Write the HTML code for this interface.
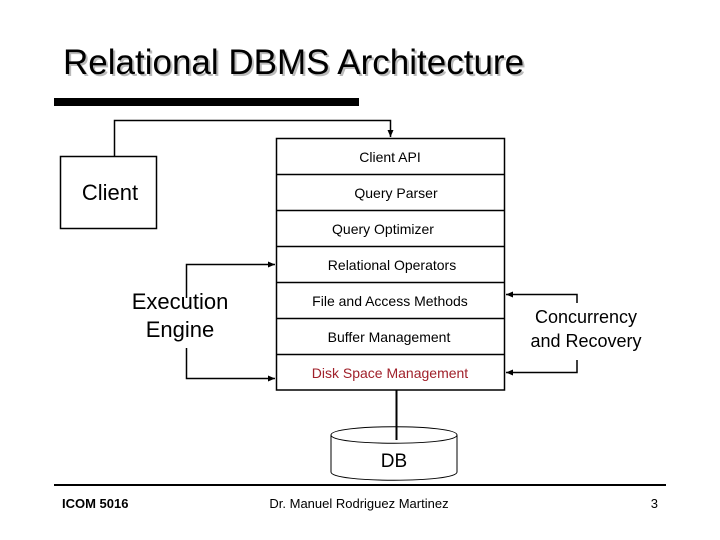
<!DOCTYPE html>
<html><head><style>
body{margin:0;background:#fff}
svg{display:block}
text{font-family:"Liberation Sans",sans-serif}
</style></head><body>
<svg width="720" height="540" viewBox="0 0 720 540" xmlns="http://www.w3.org/2000/svg">
<defs><marker id="a" markerWidth="8" markerHeight="8" refX="7" refY="4" orient="auto" markerUnits="userSpaceOnUse"><path d="M0,1 L7,4 L0,7 Z" fill="#000"/></marker></defs>
<text x="63" y="74" font-size="35" fill="#bbb" transform="translate(2,2)">Relational DBMS Architecture</text>
<text x="63" y="74" font-size="35" fill="#000">Relational DBMS Architecture</text>
<rect x="54" y="98" width="305" height="8" fill="#000"/>
<g fill="none" stroke="#000" stroke-width="1.5">
<rect x="60.5" y="156.5" width="96" height="72"/>
<rect x="276.5" y="138.5" width="228" height="251.5"/>
<path d="M276.5 174.5H504.5M276.5 210.5H504.5M276.5 246.5H504.5M276.5 282.5H504.5M276.5 318.5H504.5M276.5 354.5H504.5"/>
<path d="M114.5 156V120.5H390.5V137" marker-end="url(#a)"/>
<path d="M186.5 298V264.5H275" marker-end="url(#a)"/>
<path d="M186.5 348V378.5H275" marker-end="url(#a)"/>
<path d="M577 303V294.5H506" marker-end="url(#a)"/>
<path d="M577 360V372.5H506" marker-end="url(#a)"/>
<path d="M396.5 390V440" stroke-width="2"/>
<path d="M331 435 C331 424,457 424,457 435 C457 446,331 446,331 435 M331 435V472 C331 483,457 483,457 472V435" stroke-width="1"/>
</g>
<line x1="54" y1="485" x2="666" y2="485" stroke="#000" stroke-width="2"/>
<g font-size="14" text-anchor="middle" fill="#000">
<text x="390" y="162">Client API</text>
<text x="396" y="198">Query Parser</text>
<text x="383" y="234">Query Optimizer</text>
<text x="392" y="270">Relational Operators</text>
<text x="390" y="306">File and Access Methods</text>
<text x="389" y="342">Buffer Management</text>
<text x="390" y="378" fill="#a0202a">Disk Space Management</text>
</g>
<text x="110" y="200" font-size="22" text-anchor="middle">Client</text>
<text x="180" y="309" font-size="22" text-anchor="middle">Execution</text>
<text x="180" y="337" font-size="22" text-anchor="middle">Engine</text>
<text x="586" y="323" font-size="18" text-anchor="middle">Concurrency</text>
<text x="586" y="347" font-size="18" text-anchor="middle">and Recovery</text>
<text x="394" y="467" font-size="19" text-anchor="middle">DB</text>
<text x="62" y="508" font-size="13" font-weight="bold">ICOM 5016</text>
<text x="359" y="508" font-size="13" text-anchor="middle">Dr. Manuel Rodriguez Martinez</text>
<text x="658" y="508" font-size="13" text-anchor="end">3</text>
</svg>
</body></html>
